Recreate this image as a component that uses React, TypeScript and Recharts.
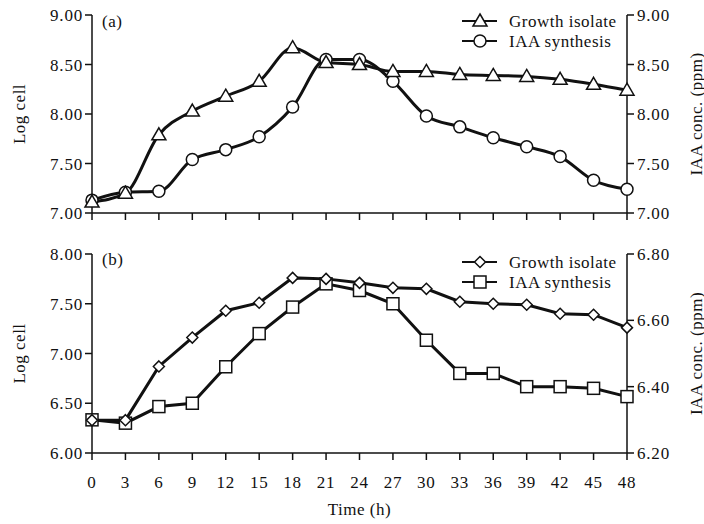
import { LineChart, Line, XAxis, YAxis, Customized } from 'recharts';

const HOURS = [0, 3, 6, 9, 12, 15, 18, 21, 24, 27, 30, 33, 36, 39, 42, 45, 48];

// panel (a)
const GROWTH_A = [7.11, 7.2, 7.79, 8.03, 8.18, 8.33, 8.67, 8.52, 8.5, 8.43, 8.43, 8.4, 8.39, 8.38, 8.35, 8.3, 8.24];
const IAA_A = [7.13, 7.21, 7.22, 7.54, 7.64, 7.77, 8.07, 8.55, 8.55, 8.33, 7.98, 7.87, 7.76, 7.67, 7.57, 7.33, 7.24];
const TICKS_A = [7, 7.5, 8, 8.5, 9];

// panel (b)
const GROWTH_B = [6.33, 6.33, 6.87, 7.16, 7.43, 7.51, 7.76, 7.75, 7.71, 7.66, 7.65, 7.52, 7.5, 7.49, 7.4, 7.39, 7.26];
const IAA_B = [6.3, 6.29, 6.34, 6.35, 6.46, 6.56, 6.64, 6.71, 6.69, 6.65, 6.54, 6.44, 6.44, 6.4, 6.4, 6.395, 6.37];
const TICKS_B_LEFT = [6, 6.5, 7, 7.5, 8];
const TICKS_B_RIGHT = [6.2, 6.4, 6.6, 6.8];

const SERIES_NAMES = ['Growth isolate', 'IAA synthesis'];

const INK = '#111';
const FONT = '"Liberation Serif", "Times New Roman", serif';
const tickStyle = { fontSize: 17, fill: INK, letterSpacing: 0.8 };
const axisStroke = { stroke: INK, strokeWidth: 1.5 };

const dataA = HOURS.map((t, i) => ({ t, growth: GROWTH_A[i], iaa: IAA_A[i] }));
const dataB = HOURS.map((t, i) => ({ t, growth: GROWTH_B[i], iaa: IAA_B[i] }));

type Shape = 'triangle' | 'circle' | 'diamond' | 'square';

function Marker({ shape, x, y }: { shape: Shape; x: number; y: number }) {
  const common = { fill: '#fff', stroke: INK, strokeWidth: 1.5 };
  if (shape === 'triangle') {
    return <polygon points={`${x},${y - 7} ${x + 7},${y + 5} ${x - 7},${y + 5}`} {...common} />;
  }
  if (shape === 'circle') return <circle cx={x} cy={y} r={6} {...common} />;
  if (shape === 'diamond') {
    return <polygon points={`${x},${y - 5.5} ${x + 5.5},${y} ${x},${y + 5.5} ${x - 5.5},${y}`} {...common} />;
  }
  return <rect x={x - 6} y={y - 6} width={12} height={12} {...common} />;
}

const dotOf = (shape: Shape) => (p: any) => (
  <Marker key={`${shape}-${p.index}`} shape={shape} x={p.cx} y={p.cy} />
);

const sideLabel = (text: string, dx: number) => (props: any) => {
  const vb = props.viewBox;
  const cx = vb.x + dx;
  const cy = vb.y + vb.height / 2;
  return (
    <text
      x={cx}
      y={cy}
      transform={`rotate(-90 ${cx} ${cy})`}
      textAnchor="middle"
      dominantBaseline="central"
      fontSize={17}
      fill={INK}
      letterSpacing={0.5}
    >
      {text}
    </text>
  );
};

const bottomLabel = (props: any) => {
  const vb = props.viewBox;
  return (
    <text x={vb.x + vb.width / 2} y={vb.y + 62} textAnchor="middle" fontSize={17} fill={INK} letterSpacing={0.5}>
      Time (h)
    </text>
  );
};

function PanelKey({ tag, top, shapes }: { tag: string; top: number; shapes: Shape[] }) {
  return (
    <g fontSize={17} fill={INK}>
      <text x={102} y={tag === '(a)' ? 27 : 35} letterSpacing={0.5}>
        {tag}
      </text>
      {SERIES_NAMES.map((name, i) => {
        const y = top + i * 20;
        return (
          <g key={name}>
            <line x1={462} x2={497} y1={y} y2={y} stroke={INK} strokeWidth={2} />
            <Marker shape={shapes[i]} x={480} y={y} />
            <text x={509} y={y + 6} letterSpacing={0.5}>
              {name}
            </text>
          </g>
        );
      })}
    </g>
  );
}

export default function App() {
  return (
    <div style={{ position: 'absolute', left: 0, top: 0, width: 704, height: 524, background: '#fff', fontFamily: FONT }}>
      <LineChart width={704} height={230} data={dataA} margin={{ top: 15, right: 0, bottom: 0, left: 0 }}>
        <XAxis
          dataKey="t"
          type="number"
          domain={[0, 48]}
          ticks={HOURS}
          interval={0}
          height={17}
          tickSize={7}
          tickFormatter={() => ''}
          axisLine={axisStroke}
          tickLine={axisStroke}
        />
        <YAxis
          yAxisId="left"
          domain={[7, 9]}
          ticks={TICKS_A}
          width={92}
          tickSize={7}
          tickMargin={2}
          tick={tickStyle}
          tickFormatter={(v: number) => v.toFixed(2)}
          axisLine={axisStroke}
          tickLine={axisStroke}
          label={sideLabel('Log cell', 19)}
        />
        <YAxis
          yAxisId="right"
          orientation="right"
          domain={[7, 9]}
          ticks={TICKS_A}
          width={77}
          tickSize={7}
          tickMargin={3}
          tick={tickStyle}
          tickFormatter={(v: number) => v.toFixed(2)}
          axisLine={axisStroke}
          tickLine={axisStroke}
          label={sideLabel('IAA conc. (ppm)', 69)}
        />
        <Line
          yAxisId="right"
          dataKey="iaa"
          type="monotone"
          stroke={INK}
          strokeWidth={3}
          dot={dotOf('circle')}
          isAnimationActive={false}
        />
        <Line
          yAxisId="left"
          dataKey="growth"
          type="monotone"
          stroke={INK}
          strokeWidth={3}
          dot={dotOf('triangle')}
          isAnimationActive={false}
        />
        <Customized component={() => <PanelKey tag="(a)" top={21} shapes={['triangle', 'circle']} />} />
      </LineChart>
      <LineChart width={704} height={294} data={dataB} margin={{ top: 24, right: 0, bottom: 0, left: 0 }}>
        <XAxis
          dataKey="t"
          type="number"
          domain={[0, 48]}
          ticks={HOURS}
          interval={0}
          height={71}
          tickSize={7}
          tickMargin={16}
          tick={tickStyle}
          axisLine={axisStroke}
          tickLine={axisStroke}
          label={bottomLabel}
        />
        <YAxis
          yAxisId="left"
          domain={[6, 8]}
          ticks={TICKS_B_LEFT}
          width={92}
          tickSize={7}
          tickMargin={2}
          tick={tickStyle}
          tickFormatter={(v: number) => v.toFixed(2)}
          axisLine={axisStroke}
          tickLine={axisStroke}
          label={sideLabel('Log cell', 19)}
        />
        <YAxis
          yAxisId="right"
          orientation="right"
          domain={[6.2, 6.8]}
          ticks={TICKS_B_RIGHT}
          width={77}
          tickSize={7}
          tickMargin={3}
          tick={tickStyle}
          tickFormatter={(v: number) => v.toFixed(2)}
          axisLine={axisStroke}
          tickLine={axisStroke}
          label={sideLabel('IAA conc. (ppm)', 69)}
        />
        <Line
          yAxisId="right"
          dataKey="iaa"
          type="linear"
          stroke={INK}
          strokeWidth={3}
          dot={dotOf('square')}
          isAnimationActive={false}
        />
        <Line
          yAxisId="left"
          dataKey="growth"
          type="linear"
          stroke={INK}
          strokeWidth={3}
          dot={dotOf('diamond')}
          isAnimationActive={false}
        />
        <Customized component={() => <PanelKey tag="(b)" top={32} shapes={['diamond', 'square']} />} />
      </LineChart>
    </div>
  );
}
